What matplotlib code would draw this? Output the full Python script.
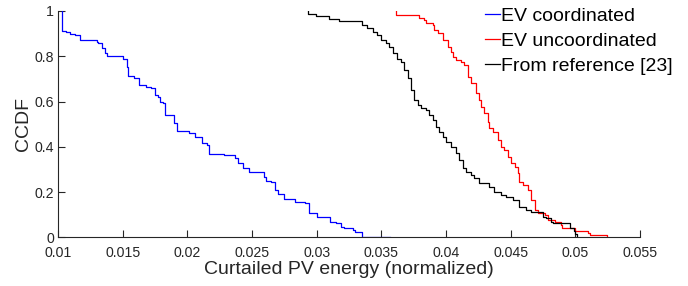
import matplotlib
matplotlib.use('Agg')
import matplotlib.pyplot as plt

plt.rcParams['font.family'] = ['Liberation Sans', 'DejaVu Sans']

# CCDF escalonadas (x donde cae, valor despues de caer)
x_coord = [0.01034, 0.01034, 0.01065, 0.0109, 0.0113, 0.0117, 0.0130, 0.0131, 0.0134, 0.0136,
           0.0138, 0.0150, 0.0153, 0.0154, 0.0159, 0.0163, 0.0168, 0.0172, 0.0175, 0.0177,
           0.0179, 0.0181, 0.0183, 0.0190, 0.0192, 0.0201, 0.0206, 0.0211, 0.0215, 0.0217,
           0.0228, 0.0237, 0.0239, 0.0243, 0.0248, 0.0256, 0.0259, 0.0261, 0.0265, 0.0268,
           0.0270, 0.0275, 0.0283, 0.0291, 0.0294, 0.0300, 0.0310, 0.0315, 0.0319, 0.0321,
           0.0328, 0.0330, 0.0335, 0.0335, 0.0357]
y_coord = [1.000, 0.912, 0.906, 0.900, 0.893, 0.872, 0.864, 0.857, 0.835, 0.813,
           0.800, 0.790, 0.754, 0.713, 0.703, 0.673, 0.663, 0.658, 0.629, 0.620,
           0.600, 0.592, 0.540, 0.504, 0.470, 0.460, 0.445, 0.415, 0.408, 0.368,
           0.364, 0.349, 0.327, 0.305, 0.290, 0.287, 0.268, 0.249, 0.246, 0.209,
           0.190, 0.169, 0.155, 0.150, 0.106, 0.091, 0.069, 0.062, 0.047, 0.040,
           0.033, 0.023, 0.010, 0.000, 0.000]

x_uncoord = [0.0361, 0.0361, 0.03793, 0.03832, 0.03845, 0.03897, 0.03910, 0.03935, 0.03974, 0.04013,
             0.04039, 0.04052, 0.04078, 0.04116, 0.04142, 0.04168, 0.04194, 0.04233, 0.04258, 0.04271,
             0.04297, 0.04323, 0.04336, 0.04362, 0.04401, 0.04426, 0.04452, 0.04478, 0.04504, 0.04530,
             0.04556, 0.04568, 0.04594, 0.04633, 0.04659, 0.04685, 0.04711, 0.04762, 0.04788, 0.04840,
             0.04891, 0.0490, 0.0500, 0.0510, 0.0511, 0.05245]
y_uncoord = [1.000, 0.982, 0.968, 0.960, 0.945, 0.938, 0.916, 0.901, 0.872, 0.842,
             0.820, 0.798, 0.783, 0.776, 0.761, 0.710, 0.680, 0.636, 0.607, 0.577,
             0.548, 0.511, 0.482, 0.467, 0.430, 0.400, 0.386, 0.356, 0.327, 0.312,
             0.283, 0.246, 0.231, 0.209, 0.165, 0.121, 0.106, 0.099, 0.077, 0.069,
             0.054, 0.040, 0.028, 0.018, 0.008, 0.000]

x_ref = [0.0293, 0.0293, 0.02995, 0.03098, 0.03175, 0.03354, 0.03393, 0.03432, 0.03470, 0.03496,
         0.03535, 0.03561, 0.03587, 0.03625, 0.03651, 0.03677, 0.03703, 0.03729, 0.03755, 0.03780,
         0.03806, 0.03845, 0.03871, 0.03897, 0.03922, 0.03948, 0.03974, 0.04000, 0.04039, 0.04078,
         0.04103, 0.04129, 0.04155, 0.04194, 0.04220, 0.04258, 0.04336, 0.04375, 0.04426, 0.04465,
         0.04517, 0.04568, 0.04620, 0.04659, 0.04749, 0.04775, 0.04814, 0.0483, 0.0496, 0.0499,
         0.0500, 0.0501]
y_ref = [1.000, 0.985, 0.976, 0.965, 0.955, 0.938, 0.923, 0.909, 0.894, 0.872,
         0.857, 0.842, 0.813, 0.790, 0.776, 0.739, 0.702, 0.651, 0.607, 0.585,
         0.570, 0.563, 0.540, 0.518, 0.489, 0.467, 0.445, 0.423, 0.400, 0.371,
         0.342, 0.305, 0.290, 0.275, 0.260, 0.239, 0.224, 0.202, 0.187, 0.180,
         0.165, 0.135, 0.121, 0.113, 0.091, 0.084, 0.069, 0.062, 0.040, 0.026,
         0.013, 0.000]

x_ticks = [0.01, 0.015, 0.02, 0.025, 0.03, 0.035, 0.04, 0.045, 0.05, 0.055]
x_tick_labels = ['0.01', '0.015', '0.02', '0.025', '0.03', '0.035', '0.04', '0.045', '0.05', '0.055']
y_ticks = [0, 0.2, 0.4, 0.6, 0.8, 1]
y_tick_labels = ['0', '0.2', '0.4', '0.6', '0.8', '1']

fig = plt.figure(figsize=(6.88, 2.86), dpi=100)
ax = fig.add_axes([0.0843, 0.1703, 0.8459, 0.7913])

ax.plot(x_coord, y_coord, drawstyle='steps-post', color='#0000ff', lw=0.9, label='EV coordinated')
ax.plot(x_uncoord, y_uncoord, drawstyle='steps-post', color='#ff0000', lw=0.9, label='EV uncoordinated')
ax.plot(x_ref, y_ref, drawstyle='steps-post', color='#000000', lw=0.9, label='From reference [23]')

ax.set_xlim(0.01, 0.055)
ax.set_ylim(0, 1)
ax.set_xticks(x_ticks)
ax.set_xticklabels(x_tick_labels)
ax.set_yticks(y_ticks)
ax.set_yticklabels(y_tick_labels)

ax.spines['top'].set_visible(False)
ax.spines['right'].set_visible(False)
for s in ['left', 'bottom']:
    ax.spines[s].set_color('#262626')
    ax.spines[s].set_linewidth(0.8)
ax.tick_params(direction='in', length=5, width=0.8, colors='#262626', labelsize=10.2)
ax.tick_params(axis='x', pad=6)
ax.tick_params(axis='y', pad=3)

ax.set_xlabel('Curtailed PV energy (normalized)', fontsize=14, color='#262626', labelpad=1)
ax.set_ylabel('CCDF', fontsize=14, color='#262626', labelpad=2)

fig.legend(loc='upper left', bbox_to_anchor=(0.705, 0.975), frameon=False, fontsize=14,
           handlelength=0.75, handletextpad=0.05, labelspacing=0.38, borderpad=0,
           borderaxespad=0)

fig.savefig('out.png', dpi=100)
